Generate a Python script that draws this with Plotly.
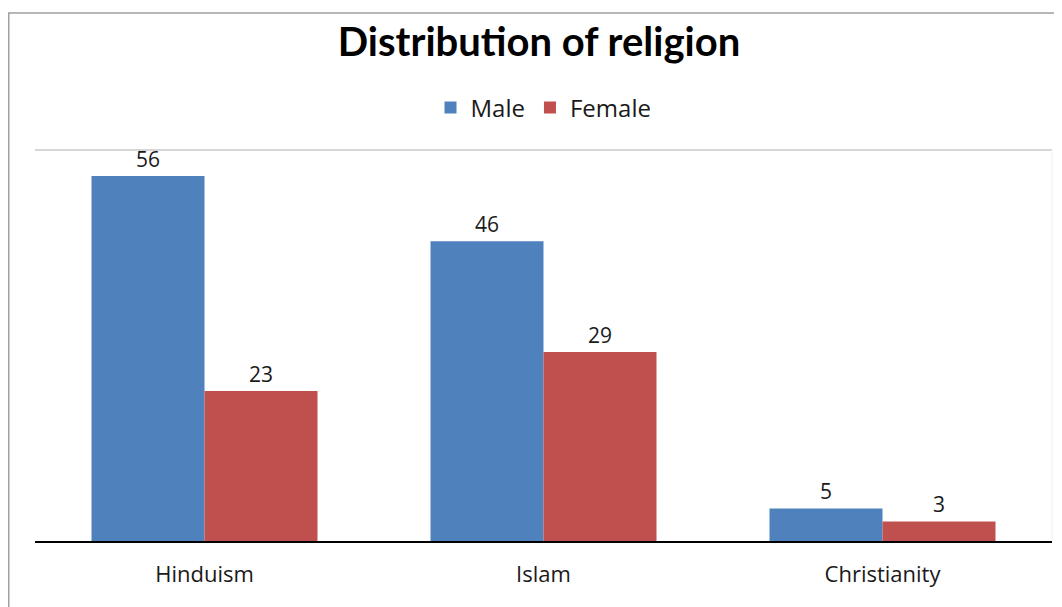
import plotly.graph_objects as go

categories = ["Hinduism", "Islam", "Christianity"]
male = [56, 46, 5]
female = [23, 29, 3]
series_names = ["Male", "Female"]
title_text = "Distribution of religion"

FONT = "Open Sans"
TXT = "#1a1a1a"
# page body has an 8px offset; figure coordinates below compensate for it
fig = go.Figure()
fig.add_trace(go.Bar(x=categories, y=male, name=series_names[0], marker_color="#4F81BD",
                     marker_line_width=0,
                     text=male, textposition="outside", cliponaxis=False,
                     textfont=dict(size=21, color=TXT, family=FONT)))
fig.add_trace(go.Bar(x=categories, y=female, name=series_names[1], marker_color="#C0504D",
                     marker_line_width=0,
                     text=female, textposition="outside", cliponaxis=False,
                     textfont=dict(size=21, color=TXT, family=FONT)))

L, R, T, B = 27, 18, 142, 74
PW, PH = 1062 - L - R, 607 - T - B

fig.update_layout(
    width=1062, height=607,
    margin=dict(l=L, r=R, t=T, b=B),
    paper_bgcolor="white", plot_bgcolor="white",
    barmode="group", bargap=1/3, bargroupgap=0,
    title=dict(text="<b>" + title_text + "</b>", x=0.5, xanchor="center",
               y=1 - 34 / 607, yanchor="middle",
               font=dict(family="Lato", size=40, color="#000000")),
    legend=dict(orientation="h", x=0.5, xanchor="center", y=(607 - B - 100) / PH, yanchor="middle",
                font=dict(family=FONT, size=24, color=TXT),
                traceorder="normal"),
    font=dict(family=FONT, color=TXT),
    xaxis=dict(showline=True, linecolor="#000000", linewidth=1.5, ticks="", showgrid=False,
               tickfont=dict(size=22, family=FONT, color=TXT), ticklabelstandoff=13),
    yaxis=dict(range=[0, 60], visible=False, showgrid=False, zeroline=False),
    shapes=[
        dict(type="line", xref="paper", yref="paper", x0=0, x1=1, y0=1, y1=1,
             line=dict(color="#c8c8c8", width=1.5)),
        dict(type="line", xref="paper", yref="paper", x0=1, x1=1, y0=0, y1=1,
             line=dict(color="#f0f0f0", width=1)),
        dict(type="rect", xref="paper", yref="paper",
             x0=(0.75 - L) / PW, x1=(1080 - L) / PW,
             y0=(607 - B - 640) / PH, y1=(607 - B - 5) / PH,
             line=dict(color="#a0a0a0", width=1.5), layer="below"),
    ],
)

fig.write_html("out.html")
